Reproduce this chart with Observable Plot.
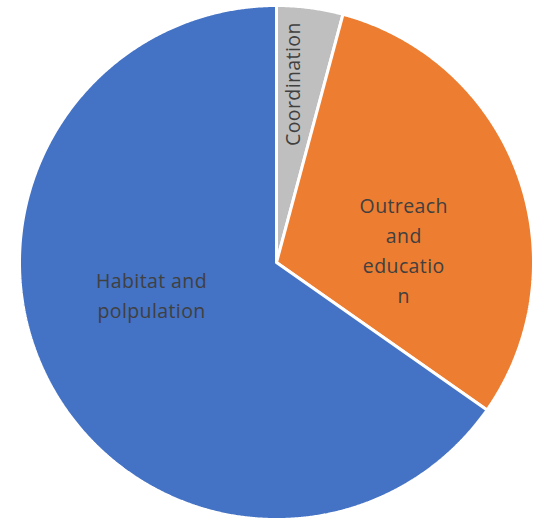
<!DOCTYPE html>
<html>
<head>
<meta charset="utf-8">
<script src="https://cdn.jsdelivr.net/npm/d3@7"></script>
<script src="https://cdn.jsdelivr.net/npm/@observablehq/plot@0.6"></script>
<style>
  html, body { margin: 0; padding: 0; background: #ffffff; }
  #chart { width: 540px; height: 519px; }
</style>
</head>
<body>
<div id="chart"></div>
<script>
// Data (clockwise from 12 o'clock)
const categories = ["Coordination", "Outreach and education", "Habitat and polpulation"];
const values = [3, 22, 47];
const labels = ["Coordination", "Outreach\nand\neducatio\nn", "Habitat and\npolpulation"];
const colors = ["#BFBFBF", "#ED7D31", "#4472C4"];

const W = 540, H = 519, CX = 276, CY = 262, R = 257;

const pie = d3.pie().sort(null).value(d => d.value).startAngle(0).endAngle(2 * Math.PI);
const arcs = pie(categories.map((name, i) => ({name, value: values[i], label: labels[i]})));

// polygon points for each slice (center -> arc -> center)
const pts = [];
for (const a of arcs) {
  pts.push({name: a.data.name, x: 0, y: 0});
  const n = Math.max(2, Math.ceil((a.endAngle - a.startAngle) / 0.005));
  for (let k = 0; k <= n; k++) {
    const t = a.startAngle + (a.endAngle - a.startAngle) * k / n;
    pts.push({name: a.data.name, x: Math.sin(t), y: Math.cos(t)});
  }
  pts.push({name: a.data.name, x: 0, y: 0});
}

// label anchor: mid-angle at half radius
const lab = arcs.map(a => {
  const m = (a.startAngle + a.endAngle) / 2;
  return {name: a.data.name, label: a.data.label, x: 0.5 * Math.sin(m), y: 0.5 * Math.cos(m)};
});

const textStyle = {x: "x", y: "y", text: "label", fill: "#404040", fontSize: 19.5, lineHeight: 1.54, textAnchor: "middle", lineAnchor: "middle"};

const chart = Plot.plot({
  width: W,
  height: H,
  margin: 0,
  style: {fontFamily: "'Open Sans', sans-serif", letterSpacing: "0.4px", background: "#ffffff"},
  x: {domain: [-CX / R, (W - CX) / R], axis: null},
  y: {domain: [-(H - CY) / R, CY / R], axis: null},
  color: {domain: categories, range: colors},
  marks: [
    Plot.line(pts, {x: "x", y: "y", z: "name", fill: "name", stroke: "white", strokeWidth: 3, strokeLinejoin: "miter", curve: "linear"}),
    Plot.text(lab.filter(d => d.name === categories[0]), {...textStyle, rotate: -90, dx: -3, dy: -51}),
    Plot.text(lab.filter(d => d.name === categories[1]), {...textStyle, dx: 6.5, dy: 30}),
    Plot.text(lab.filter(d => d.name === categories[2]), {...textStyle, dx: -11, dy: -28})
  ]
});
document.getElementById("chart").appendChild(chart);
</script>
</body>
</html>
